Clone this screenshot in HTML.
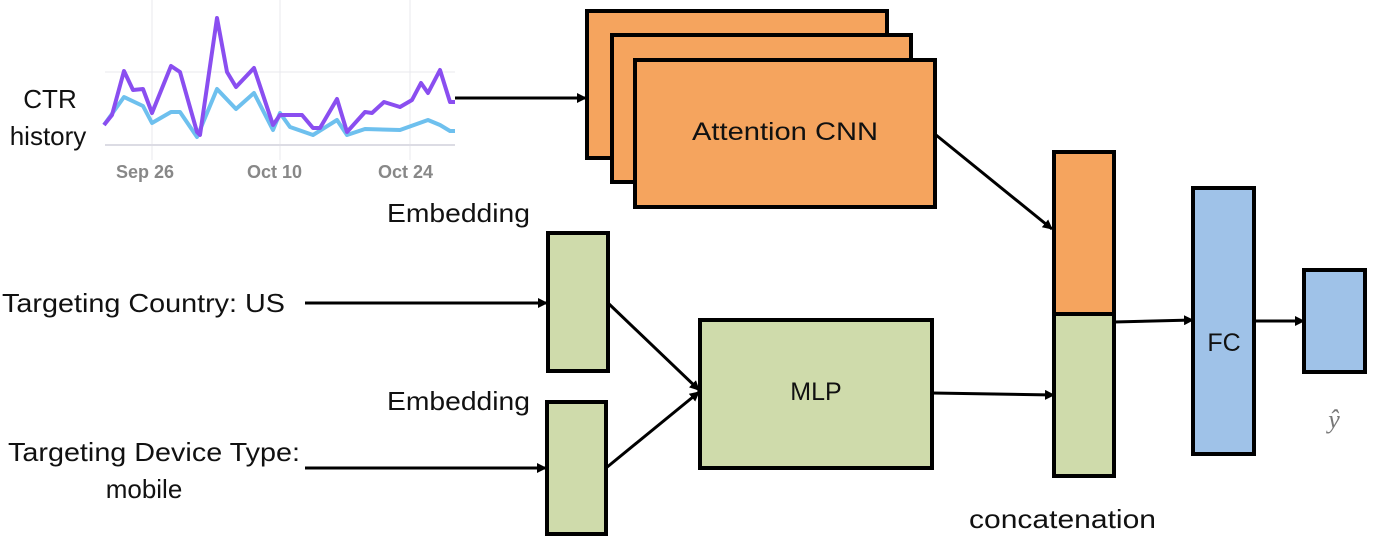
<!DOCTYPE html>
<html><head><meta charset="utf-8"><style>
html,body{margin:0;padding:0;background:#fff;}
svg{display:block;}
text{font-family:"Liberation Sans",sans-serif;fill:#111;}
</style></head><body>
<svg width="1374" height="544" viewBox="0 0 1374 544" xmlns="http://www.w3.org/2000/svg">
<defs>
<marker id="ah" markerWidth="10" markerHeight="10" refX="9" refY="5" orient="auto" markerUnits="userSpaceOnUse">
<path d="M0,0 L10,5 L0,10 z" fill="#000"/>
</marker>
</defs>
<!-- chart -->
<g stroke="#e8e8ee" stroke-width="1" fill="none">
<line x1="105" y1="72" x2="455" y2="72"/>
<line x1="152" y1="0" x2="152" y2="160"/>
<line x1="280" y1="0" x2="280" y2="160"/>
<line x1="410" y1="0" x2="410" y2="160"/>
</g>
<line x1="105" y1="145" x2="455" y2="145" stroke="#dcdce4" stroke-width="2"/>
<polyline fill="none" stroke="#6ec0ee" stroke-width="4" stroke-linejoin="round" points="104,125 124,97 143,106 152,123 171,112 180,112 197,137 217,89 236,109 254,93 273,130 280,113 290,127 313,135 337,120 347,135 365,129 400,130 428,120 440,125 450,131 455,131"/>
<polyline fill="none" stroke="#8a4ef0" stroke-width="4" stroke-linejoin="round" points="104,125 112,115 124,71 133,90 143,89 152,113 171,66 180,72 197,132 200,135 217,18 227,72 236,87 254,68 273,125 280,115 302,115 313,128 320,128 337,99 347,132 365,112 372,113 384,102 400,107 412,100 421,83 428,93 440,70 450,102 455,102"/>
<g font-weight="bold" font-size="18" style="fill:#888">
<text x="116" y="178" style="fill:#888">Sep 26</text>
<text x="247" y="178" style="fill:#888">Oct 10</text>
<text x="378" y="178" style="fill:#888">Oct 24</text>
</g>
<text x="50" y="108" font-size="26" text-anchor="middle">CTR</text>
<text x="48" y="145" font-size="26" text-anchor="middle">history</text>
<!-- arrows -->
<g stroke="#000" stroke-width="3" fill="none" marker-end="url(#ah)">
<line x1="455" y1="98" x2="586" y2="98"/>
<line x1="936" y1="135" x2="1052" y2="229"/>
<line x1="305" y1="303" x2="547" y2="303"/>
<line x1="305" y1="468" x2="546" y2="468"/>
<line x1="608" y1="303" x2="699" y2="390"/>
<line x1="606" y1="468" x2="699" y2="392"/>
<line x1="932" y1="393" x2="1054" y2="395"/>
<line x1="1114" y1="322" x2="1193" y2="320"/>
<line x1="1254" y1="321" x2="1304" y2="321"/>
</g>
<!-- CNN stacks -->
<g stroke="#000" stroke-width="4" fill="#f5a45e">
<rect x="587" y="11" width="300" height="147"/>
<rect x="612" y="35" width="299" height="147"/>
<rect x="635" y="60" width="300" height="147"/>
</g>
<text x="785" y="140" font-size="25" text-anchor="middle" textLength="186" lengthAdjust="spacingAndGlyphs">Attention CNN</text>
<!-- embeddings, MLP -->
<g stroke="#000" stroke-width="4" fill="#cfdbab">
<rect x="548" y="233" width="60" height="138"/>
<rect x="547" y="402" width="59" height="132"/>
<rect x="700" y="320" width="232" height="148"/>
<rect x="1054" y="314" width="60" height="162"/>
</g>
<rect x="1054" y="152" width="60" height="162" stroke="#000" stroke-width="4" fill="#f5a45e"/>
<text x="816" y="400" font-size="25" text-anchor="middle">MLP</text>
<g stroke="#000" stroke-width="4" fill="#9fc2e8">
<rect x="1193" y="188" width="61" height="266"/>
<rect x="1304" y="270" width="61" height="102"/>
</g>
<text x="1224" y="351" font-size="25" text-anchor="middle">FC</text>
<text x="1334" y="428" font-size="26" font-style="italic" text-anchor="middle" style="fill:#777;font-family:'Liberation Serif',serif">ŷ</text>
<!-- labels -->
<text x="387" y="222" font-size="26" textLength="143" lengthAdjust="spacingAndGlyphs">Embedding</text>
<text x="387" y="410" font-size="26" textLength="143" lengthAdjust="spacingAndGlyphs">Embedding</text>
<text x="2" y="312" font-size="26" textLength="283" lengthAdjust="spacingAndGlyphs">Targeting Country: US</text>
<text x="8" y="461" font-size="26" textLength="292" lengthAdjust="spacingAndGlyphs">Targeting Device Type:</text>
<text x="144" y="498" font-size="26" text-anchor="middle">mobile</text>
<text x="969" y="528" font-size="26" textLength="187" lengthAdjust="spacingAndGlyphs">concatenation</text>
</svg>
</body></html>
